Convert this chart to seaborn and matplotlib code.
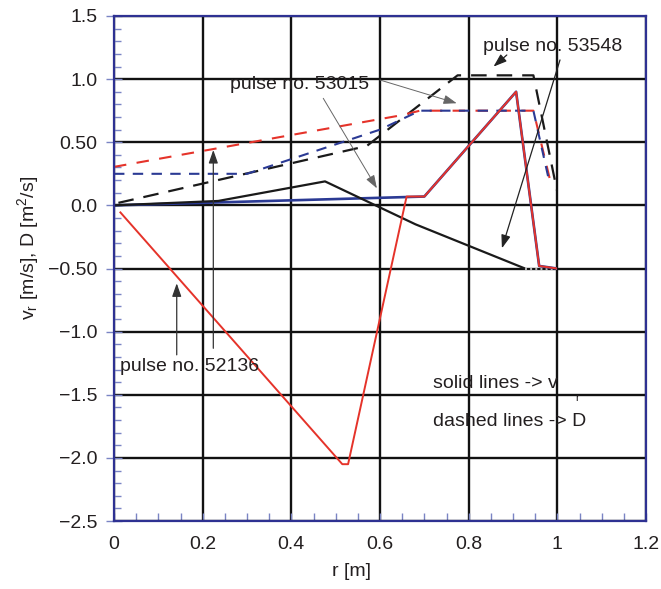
import numpy as np
import pandas as pd
import matplotlib
matplotlib.use('Agg')
import matplotlib.pyplot as plt
from matplotlib.ticker import MultipleLocator, FixedLocator
import seaborn as sns

# ----------------------- data

# pulse no. 52136 (red)
r_vr_52136 = [0.013, 0.515, 0.528, 0.66, 0.70, 0.907, 0.959, 0.999]
vr_52136 = [-0.05, -2.05, -2.05, 0.07, 0.07, 0.90, -0.48, -0.50]
r_D_52136 = [0.0, 0.65, 0.69, 0.946, 0.985]
D_52136 = [0.305, 0.715, 0.75, 0.75, 0.18]

# pulse no. 53015 (blue)
r_vr_53015 = [0.0, 0.70, 0.907, 0.959, 0.999]
vr_53015 = [0.0, 0.07, 0.90, -0.48, -0.50]
r_D_53015 = [0.0, 0.30, 0.60, 0.69, 0.946, 0.983]
D_53015 = [0.25, 0.25, 0.60, 0.75, 0.75, 0.17]

# pulse no. 53548 (black)
r_vr_53548 = [0.0, 0.235, 0.476, 0.68, 0.927]
vr_53548 = [0.0, 0.035, 0.19, -0.15, -0.50]
r_D_53548 = [0.01, 0.57, 0.775, 0.946, 0.999]
D_53548 = [0.02, 0.47, 1.03, 1.03, 0.12]

xticks = [0, 0.2, 0.4, 0.6, 0.8, 1.0, 1.2]
xticklabels = ['0', '0.2', '0.4', '0.6', '0.8', '1', '1.2']
yticks = [1.5, 1.0, 0.5, 0.0, -0.5, -1.0, -1.5, -2.0, -2.5]
yticklabels = ['1.5', '1.0', '0.50', '0.0', '\u22120.50', '\u22121.0',
	'\u22121.5', '\u22122.0', '\u22122.5']

# -----------------------

sns.set_style('white')
plt.rcParams['font.family'] = ['Liberation Sans', 'DejaVu Sans']
plt.rcParams['mathtext.fontset'] = 'custom'
plt.rcParams['mathtext.rm'] = 'Liberation Sans'
plt.rcParams['mathtext.it'] = 'Liberation Sans'

TXT = '#231f20'
RED = '#e5332a'
BLUE = '#2b3a94'
BLACK = '#1a1a1a'
NAVY = '#2e3192'
TICK = '#7a84c4'

fig = plt.figure(figsize=(6.61, 5.89), dpi=100)
ax = fig.add_axes([114 / 661, 68 / 589, 532 / 661, 505 / 589])

def line(r, v, color, lw, dashes=None, z=3):
	df = pd.DataFrame({'r': r, 'v': v})
	sns.lineplot(data=df, x='r', y='v', sort=False, estimator=None,
		color=color, lw=lw, ax=ax, zorder=z)
	ln = ax.lines[-1]
	if dashes is not None:
		ln.set_dashes(dashes)
	ln.set_solid_capstyle('butt')
	return ln

# dashed D profiles
line(r_D_53548, D_53548, BLACK, 1.6, dashes=(7, 4.5), z=3)
line(r_D_52136, D_52136, RED, 1.5, dashes=(6, 5), z=3)
line(r_D_53015, D_53015, BLUE, 1.5, dashes=(5, 4), z=4)

# solid v_r profiles
line(r_vr_53015, vr_53015, BLUE, 1.9, z=5)
line(r_vr_52136, vr_52136, RED, 1.4, z=6)
line(r_vr_53548, vr_53548, BLACK, 1.6, z=5)
ax.plot([r_vr_53548[-1], 1.0], [-0.5, -0.5], color='#bbbbbb', lw=1.4, ls=':', zorder=4)

ax.set_xlim(0, 1.2)
ax.set_ylim(-2.5, 1.5)
ax.xaxis.set_major_locator(FixedLocator(xticks))
ax.yaxis.set_major_locator(FixedLocator(yticks))
ax.set_xticklabels(xticklabels)
ax.set_yticklabels(yticklabels)
ax.xaxis.set_minor_locator(MultipleLocator(0.05))
ax.yaxis.set_minor_locator(MultipleLocator(0.1))

ax.grid(which='major', color='#111111', lw=1.7)
ax.set_axisbelow(True)

for s in ax.spines.values():
	s.set_color(NAVY)
	s.set_linewidth(1.6)
	s.set_zorder(10)

ax.tick_params(axis='both', which='both', colors=TICK, labelcolor=TXT,
	labelsize=14, width=1.0, bottom=True, left=True, top=False, right=False)
ax.tick_params(axis='y', which='major', direction='inout', length=12, pad=6)
ax.tick_params(axis='y', which='minor', direction='in', length=5)
ax.tick_params(axis='x', which='major', direction='in', length=6, pad=11)
ax.tick_params(axis='x', which='minor', direction='in', length=6)

ax.set_xlabel('r [m]', fontsize=14, color=TXT)
ax.set_ylabel('v$_\\mathregular{r}$ [m/s], D [m$^\\mathregular{2}$/s]',
	fontsize=14, color=TXT)
ax.xaxis.set_label_coords(0.447, -0.083)
ax.yaxis.set_label_coords(-0.137, 0.54)

# annotations
fs = 14
ax.text(0.262, 0.961, 'pulse no. 53015', fontsize=fs, color=TXT, va='center', zorder=12)
ax.text(0.832, 1.255, 'pulse no. 53548', fontsize=fs, color=TXT, va='center', zorder=12)
ax.text(0.0135, -1.278, 'pulse no. 52136', fontsize=fs, color=TXT, va='center', zorder=12)
ax.text(0.72, -1.409, 'solid lines -> v', fontsize=fs, color=TXT, va='center', zorder=12)
ax.text(1.040, -1.525, 'r', fontsize=8, color=TXT, va='center', zorder=12)
ax.text(0.72, -1.713, 'dashed lines -> D', fontsize=fs, color=TXT, va='center', zorder=12)

def arrow(x0, y0, x1, y1, color, lw):
	ax.annotate('', xy=(x1, y1), xytext=(x0, y0), zorder=11,
		arrowprops=dict(arrowstyle='-|>,head_length=0.8,head_width=0.28',
			color=color, lw=lw, shrinkA=0, shrinkB=0))

arrow(0.472, 0.848, 0.593, 0.135, '#666666', 0.7)
arrow(0.600, 0.993, 0.773, 0.809, '#666666', 0.7)
arrow(0.886, 1.191, 0.856, 1.099, '#222222', 0.9)
arrow(1.006, 1.152, 0.875, -0.340, '#222222', 0.9)
arrow(0.1415, -1.184, 0.1415, -0.617, '#333333', 0.9)
arrow(0.224, -1.132, 0.224, 0.439, '#333333', 0.9)

plt.savefig('out.png', dpi=100)
